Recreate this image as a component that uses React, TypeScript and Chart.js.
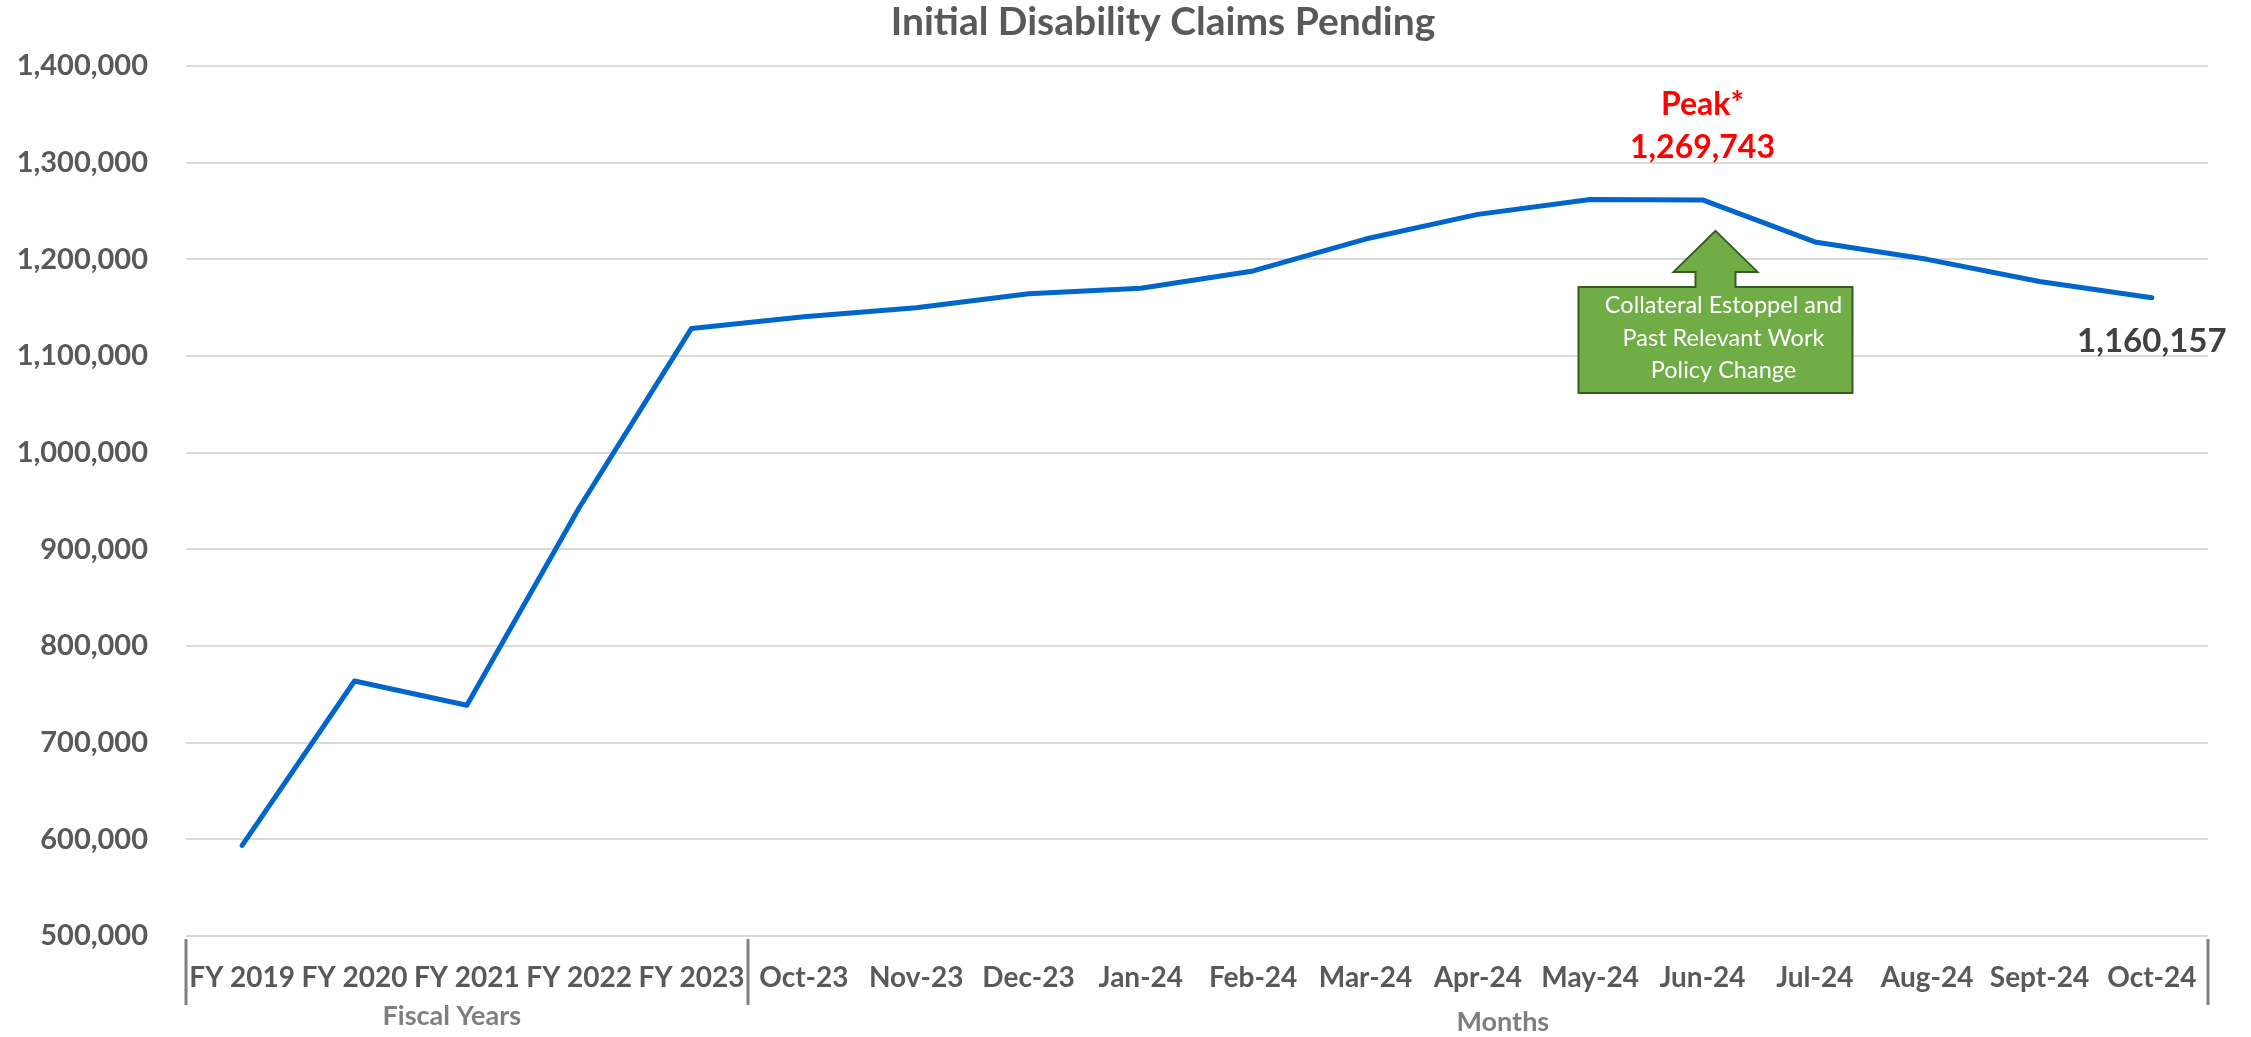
import React, { useEffect, useRef } from 'react';
import { Chart, registerables } from 'chart.js';

Chart.register(...registerables);

// ---------- data ----------
const categories = [
  'FY 2019', 'FY 2020', 'FY 2021', 'FY 2022', 'FY 2023',
  'Oct-23', 'Nov-23', 'Dec-23', 'Jan-24', 'Feb-24', 'Mar-24', 'Apr-24',
  'May-24', 'Jun-24', 'Jul-24', 'Aug-24', 'Sept-24', 'Oct-24',
];
const pendingClaims = [
  593800, 763800, 738700, 943000, 1128500,
  1140500, 1150000, 1164500, 1170000, 1188000, 1221000, 1246500,
  1262000, 1261500, 1218000, 1200000, 1177000, 1160157,
];
const yMin = 500000;
const yMax = 1400000;
const yStep = 100000;
const groupLabels = ['Fiscal Years', 'Months'];
const groupStarts = [0, 5];
const groupEnds = [4, 17];
const titleText = 'Initial Disability Claims Pending';
const peakLines = ['Peak*', '1,269,743'];
const peakIndex = 13;
const lastValueLabel = '1,160,157';
const calloutLines = ['Collateral Estoppel and', 'Past Relevant Work', 'Policy Change'];

const W = 2251;
const H = 1037;
const FONT = 'Lato, "Open Sans", sans-serif';

const overlayPlugin = {
  id: 'overlay',
  afterDraw(chart: any) {
    const ctx = chart.ctx as CanvasRenderingContext2D;
    const xs = chart.scales.x;
    const ys = chart.scales.y;
    const area = chart.chartArea;
    const step = xs.getPixelForValue(1) - xs.getPixelForValue(0);
    ctx.save();

    // title
    ctx.fillStyle = '#595959';
    ctx.font = `bold 39px ${FONT}`;
    ctx.textAlign = 'center';
    ctx.textBaseline = 'middle';
    ctx.fillText(titleText, 1163, 22);

    // group separators and group labels
    ctx.strokeStyle = '#808080';
    ctx.lineWidth = 3;
    const seps: number[] = [];
    groupStarts.forEach((s) => seps.push(xs.getPixelForValue(s) - step / 2));
    seps.push(xs.getPixelForValue(groupEnds[groupEnds.length - 1]) + step / 2);
    seps.forEach((sx) => {
      ctx.beginPath();
      ctx.moveTo(Math.round(sx), area.bottom + 3);
      ctx.lineTo(Math.round(sx), area.bottom + 69);
      ctx.stroke();
    });
    ctx.fillStyle = '#7f7f7f';
    ctx.font = `bold 27px ${FONT}`;
    const groupOffsets = [-15, 25];
    groupLabels.forEach((g, i) => {
      const cx = (xs.getPixelForValue(groupStarts[i]) + xs.getPixelForValue(groupEnds[i])) / 2 + groupOffsets[i];
      ctx.fillText(g, cx, area.bottom + 80 + i * 6);
    });

    // peak label
    const px = xs.getPixelForValue(peakIndex);
    const py = ys.getPixelForValue(pendingClaims[peakIndex]);
    ctx.fillStyle = '#ff0000';
    ctx.font = `bold 32px ${FONT}`;
    ctx.fillText(peakLines[0], px, py - 95);
    ctx.fillText(peakLines[1], px, py - 52);

    // last value label
    const li = pendingClaims.length - 1;
    const lx = xs.getPixelForValue(li);
    const ly = ys.getPixelForValue(pendingClaims[li]);
    ctx.fillStyle = '#404040';
    ctx.font = `bold 33px ${FONT}`;
    ctx.fillText(lastValueLabel, lx, ly + 44);

    // callout arrow
    const cx = px + 13;
    const tipY = py + 31;
    const headY = tipY + 41;
    const boxTop = tipY + 56;
    const boxBot = tipY + 162;
    ctx.beginPath();
    ctx.moveTo(cx, tipY);
    ctx.lineTo(cx + 42, headY);
    ctx.lineTo(cx + 20, headY);
    ctx.lineTo(cx + 20, boxTop);
    ctx.lineTo(cx + 137, boxTop);
    ctx.lineTo(cx + 137, boxBot);
    ctx.lineTo(cx - 137, boxBot);
    ctx.lineTo(cx - 137, boxTop);
    ctx.lineTo(cx - 20, boxTop);
    ctx.lineTo(cx - 20, headY);
    ctx.lineTo(cx - 42, headY);
    ctx.closePath();
    ctx.fillStyle = '#70ad47';
    ctx.fill();
    ctx.strokeStyle = '#3a5a24';
    ctx.lineWidth = 2;
    ctx.stroke();
    ctx.fillStyle = '#ffffff';
    ctx.font = `23.5px ${FONT}`;
    calloutLines.forEach((t, i) => {
      ctx.fillText(t, cx + 8, boxTop + 19 + i * 32.5);
    });

    ctx.restore();
  },
};

export default function App() {
  const ref = useRef<HTMLCanvasElement | null>(null);

  useEffect(() => {
    document.body.style.margin = '0';
    const canvas = ref.current;
    if (!canvas) return;
    const chart = new Chart(canvas, {
      type: 'line',
      data: {
        labels: categories,
        datasets: [
          {
            label: 'Initial Disability Claims Pending',
            data: pendingClaims,
            borderColor: '#0066cc',
            backgroundColor: '#0066cc',
            borderWidth: 5,
            pointRadius: 0,
            tension: 0,
            borderCapStyle: 'round',
            borderJoinStyle: 'round',
          },
        ],
      },
      options: {
        responsive: false,
        animation: false,
        devicePixelRatio: 1,
        layout: { padding: { top: 66, right: 43, left: 0, bottom: 0 } },
        plugins: {
          legend: { display: false },
          title: { display: false },
          tooltip: { enabled: false },
        },
        scales: {
          x: {
            type: 'category',
            offset: true,
            grid: { display: false, drawTicks: false },
            border: { display: false },
            ticks: {
              autoSkip: false,
              maxRotation: 0,
              minRotation: 0,
              padding: 25,
              color: '#595959',
              font: { family: FONT, size: 28, weight: 'bold' },
            },
            afterFit: (scale: any) => {
              scale.height = 101;
            },
          },
          y: {
            min: yMin,
            max: yMax,
            grid: { color: '#d9d9d9', lineWidth: 2, drawTicks: false },
            border: { display: false },
            ticks: {
              stepSize: yStep,
              padding: 38,
              color: '#595959',
              font: { family: FONT, size: 29, weight: 'bold' },
              callback: (v: any) => Number(v).toLocaleString('en-US'),
            },
            afterFit: (scale: any) => {
              scale.width = 186;
            },
          },
        },
      },
      plugins: [overlayPlugin],
    });
    return () => chart.destroy();
  }, []);

  return (
    <canvas
      ref={ref}
      width={W}
      height={H}
      style={{ display: 'block', width: W, height: H, background: '#ffffff' }}
    />
  );
}
